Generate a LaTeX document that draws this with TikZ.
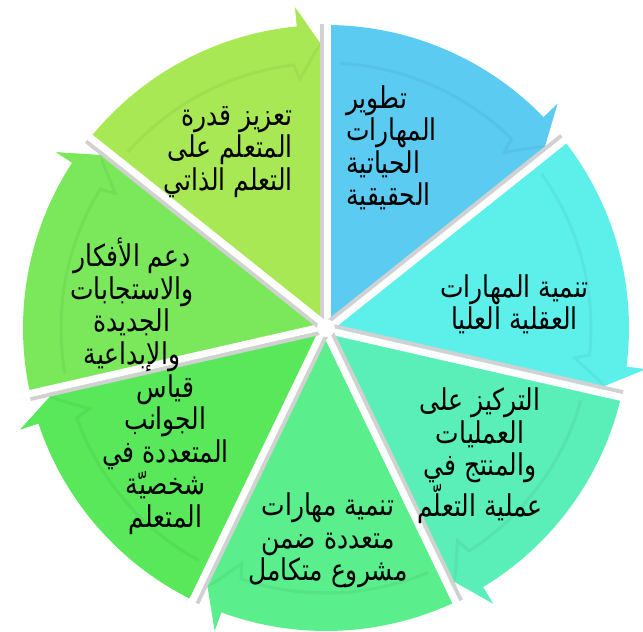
\documentclass[tikz,border=0pt]{standalone}
\usepackage{fontspec}
\newfontfamily\arabicfont[Script=Arabic]{DejaVu Sans}
\TeXXeTstate=1
\usetikzlibrary{calc}
\newcommand\RL[1]{\scalebox{1}[1.2]{\beginR#1\endR}}
\definecolor{cA}{HTML}{A8E855}
\definecolor{cB}{HTML}{5CCBF2}
\definecolor{cC}{HTML}{5DF0EB}
\definecolor{cD}{HTML}{5AEEB9}
\definecolor{cE}{HTML}{5AEE8C}
\definecolor{cF}{HTML}{58E85A}
\definecolor{cG}{HTML}{7AE85A}
\newcommand\mysector[3]{%
  \fill[#1] (0,0) -- ({#2}:303) arc[start angle={#2}, end angle={#3+5.5}, radius=303]
    -- ({#3+5.5}:322) -- ({#3+1.2}:285) -- ({#3}:285) -- cycle;
  \draw[#1!75!black, opacity=.18, line width=3pt]
    ({#2-3}:265) arc[start angle={#2-3}, end angle={#3+7}, radius=265]
    -- ({#3+6}:250) -- ({#3+1.2}:285);
}
\newcommand\myhead[2]{%
  \fill[#1] ({#2+5.5}:322) -- ({#2+1.2}:285) -- ({#2+5.5}:262) -- cycle;
}
\tikzset{
  lbl/.style={font=\fontsize{25}{32.5}\selectfont\arabicfont, text=black, inner sep=0pt},
}
\begin{document}
\begin{tikzpicture}[x=1pt,y=1pt]
\useasboundingbox (-326,-304) rectangle (317,328);
\mysector{cB}{90}{38.571}
\mysector{cC}{38.571}{-12.857}
\mysector{cD}{-12.857}{-64.286}
\mysector{cE}{-64.286}{-115.714}
\mysector{cF}{-115.714}{-167.143}
\mysector{cG}{-167.143}{-218.571}
\mysector{cA}{141.429}{90}
\foreach \t in {90,38.571,-12.857,-64.286,-115.714,-167.143,-218.571}{
  \draw[black!18, line width=4pt, shift={(\t+90:3.5)}] (0,0) -- (\t:304);
  \draw[white, line width=7pt, shift={(\t-90:2)}] (0,0) -- (\t:305);
}
\myhead{cB}{38.571}
\myhead{cC}{-12.857}
\myhead{cD}{-64.286}
\myhead{cE}{-115.714}
\myhead{cF}{-167.143}
\myhead{cG}{-218.571}
\myhead{cA}{90}
\fill[white] (0,0) circle (9);
\node[lbl, anchor=west, align=left] (t1) at (20,180)
  {\RL{تطوير}\\\RL{المهارات}\\\RL{الحياتية}\\\RL{الحقيقية}};
\node[lbl, align=center] (t2) at (188.5,23.5)
  {\RL{تنمية المهارات}\\\RL{العقلية العليا}};
\node[lbl, align=center] (t3) at (154,-128)
  {\RL{التركيز على}\\\RL{العمليات}\\\RL{والمنتج في}\\\RL{عملية التعلّم}};
\node[lbl, align=center] (t4) at (2,-212.5)
  {\RL{تنمية مهارات}\\\RL{متعددة ضمن}\\\RL{مشروع متكامل}};
\node[lbl, align=center] (t5) at (-160.5,-126.5)
  {\RL{قياس}\\\RL{الجوانب}\\\RL{المتعددة في}\\\RL{شخصيّة}\\\RL{المتعلم}};
\node[lbl, align=center] (t6) at (-194,23)
  {\RL{دعم الأفكار}\\\RL{والاستجابات}\\\RL{الجديدة}\\\RL{والإبداعية}};
\node[lbl, anchor=east, align=right] (t7) at (-33,176)
  {\RL{تعزيز قدرة}\\\RL{المتعلم على}\\\RL{التعلم الذاتي}};
\end{tikzpicture}
\end{document}
